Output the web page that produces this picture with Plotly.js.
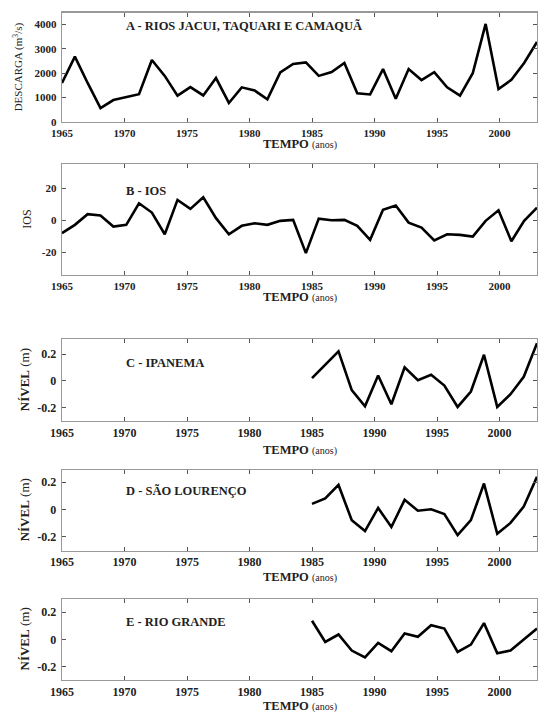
<!DOCTYPE html>
<html>
<head>
<meta charset="utf-8">
<script src="https://cdn.plot.ly/plotly-3.0.1.min.js"></script>
<style>html,body{margin:0;padding:0;background:#fff;}#chart{width:539px;height:713px;}</style>
</head>
<body>
<div id="chart"></div>
<script>
// ---- Data ----
const yearsA = [1965.00,1966.03,1967.05,1968.08,1969.11,1970.14,1971.16,1972.19,1973.22,1974.24,
  1975.27,1976.30,1977.32,1978.35,1979.38,1980.41,1981.43,1982.46,1983.49,1984.51,
  1985.54,1986.57,1987.59,1988.62,1989.65,1990.68,1991.70,1992.73,1993.76,1994.78,
  1995.81,1996.84,1997.86,1998.89,1999.92,2000.95,2001.97,2003.00];
const descarga = [1600,2680,1600,570,900,1010,1140,2540,1890,1080,
  1430,1090,1800,780,1420,1290,930,2030,2380,2440,
  1890,2050,2420,1180,1130,2170,950,2170,1720,2040,
  1420,1080,2000,4020,1350,1730,2420,3280];
const ios = [-8.1,-2.9,3.8,2.9,-4.0,-2.9,10.6,4.8,-8.8,12.7,
  7.1,14.4,1.3,-8.8,-3.5,-1.9,-2.9,-0.4,0.2,-20.6,
  1.0,0.0,0.2,-3.5,-12.3,6.5,9.2,-1.5,-4.6,-12.6,
  -8.8,-9.2,-10.2,-0.4,6.2,-13.2,-0.4,7.8];
const yearsN = [1985.00,1986.06,1987.12,1988.18,1989.24,1990.29,1991.35,1992.41,1993.47,
  1994.53,1995.59,1996.65,1997.71,1998.76,1999.82,2000.88,2001.94,2003.00];
const ipanema = [0.02,0.12,0.22,-0.07,-0.19,0.04,-0.175,0.10,0.005,0.045,-0.035,-0.195,-0.08,0.195,-0.195,-0.10,0.03,0.28];
const saoLourenco = [0.04,0.08,0.18,-0.08,-0.16,0.01,-0.13,0.07,-0.01,0.0,-0.035,-0.19,-0.08,0.19,-0.18,-0.10,0.02,0.24];
const rioGrande = [0.137,-0.017,0.037,-0.08,-0.13,-0.025,-0.085,0.045,0.02,0.105,0.08,-0.09,-0.037,0.12,-0.10,-0.08,0.0,0.08];
const xTicks = [1965,1970,1975,1980,1985,1990,1995,2000];
const panelLabels = ['A - RIOS JACUI, TAQUARI E CAMAQUÃ','B - IOS','C - IPANEMA','D - SÃO LOURENÇO','E - RIO GRANDE'];
const yTitles = ['DESCARGA (m<sup>3</sup>/s)','IOS','<b>NÍVEL</b> (m)','<b>NÍVEL</b> (m)','<b>NÍVEL</b> (m)'];
const xTitle = '<b>TEMPO</b> <span style="font-size:10px">(anos)</span>';

// ---- Layout geometry (pixels) ----
const W = 539, H = 713;
const FONT = 'Liberation Serif, Times New Roman, serif';
const xL = 62, xR = 537;
const panels = [
  {top:12.7, bot:122, range:[0,4480], tickvals:[0,1000,2000,3000,4000], ticktext:['0','1000','2000','3000','4000'], labY:26, titleY:144, yTitleX:18, yTitleSize:11, tickSize:11},
  {top:164.3, bot:275, range:[-34.3,35], tickvals:[-20,0,20], ticktext:['-20','0','20'], labY:191, titleY:297, yTitleX:27, yTitleSize:12, tickSize:11},
  {top:339.3, bot:421, range:[-0.30,0.31], tickvals:[-0.2,0,0.2], ticktext:['-0.2','0','0.2'], labY:363, titleY:450, yTitleX:24, yTitleSize:13, tickSize:12},
  {top:470, bot:550.7, range:[-0.305,0.29], tickvals:[-0.2,0,0.2], ticktext:['-0.2','0','0.2'], labY:491, titleY:577, yTitleX:24, yTitleSize:13, tickSize:12},
  {top:599, bot:680, range:[-0.295,0.296], tickvals:[-0.2,0,0.2], ticktext:['-0.2','0','0.2'], labY:622, titleY:706, yTitleX:24, yTitleSize:13, tickSize:12}
];
const series = [[yearsA,descarga],[yearsA,ios],[yearsN,ipanema],[yearsN,saoLourenco],[yearsN,rioGrande]];

const py = p => 1 - p / H;
const data = [];
const layout = {
  width: W, height: H,
  margin: {l:0, r:0, t:0, b:0},
  paper_bgcolor: '#fff', plot_bgcolor: '#fff',
  showlegend: false,
  font: {family: FONT, color: '#000'},
  annotations: [], shapes: []
};

panels.forEach((p, i) => {
  const n = i + 1;
  const sfx = (n === 1 ? '' : String(n));
  data.push({
    x: series[i][0], y: series[i][1], type: 'scatter', mode: 'lines',
    xaxis: 'x' + sfx, yaxis: 'y' + sfx,
    line: {color: '#000', width: 2.6}, hoverinfo: 'skip'
  });
  layout['xaxis' + sfx] = {
    domain: [xL / W, xR / W], range: [1965, 2003], anchor: 'y' + sfx,
    tickvals: xTicks, ticktext: xTicks.map(String),
    ticks: 'inside', ticklen: 4, tickcolor: '#555', tickwidth: 1,
    showline: true, linecolor: '#999', linewidth: 1.3, mirror: 'ticks',
    showgrid: false, zeroline: false,
    tickfont: {family: FONT, size: p.tickSize, color: '#222', weight: 'bold'},
    ticklabelstandoff: 0, fixedrange: true
  };
  layout['yaxis' + sfx] = {
    domain: [py(p.bot), py(p.top)], range: p.range, anchor: 'x' + sfx,
    tickvals: p.tickvals, ticktext: p.ticktext,
    ticks: 'inside', ticklen: 4, tickcolor: '#555', tickwidth: 1,
    showline: true, linecolor: '#999', linewidth: 1.3, mirror: 'ticks',
    showgrid: false, zeroline: false,
    tickfont: {family: FONT, size: p.tickSize, color: '#222', weight: 'bold'},
    ticklabelstandoff: 2, fixedrange: true
  };
  layout.annotations.push({
    xref: 'paper', yref: 'paper', x: 124 / W, y: py(p.labY), xanchor: 'left', yanchor: 'middle',
    text: '<b>' + panelLabels[i] + '</b>', showarrow: false,
    font: {family: FONT, size: 12.5, color: '#222'}
  });
  layout.annotations.push({
    xref: 'paper', yref: 'paper', x: (xL + xR) / 2 / W, y: py(p.titleY), xanchor: 'center', yanchor: 'middle',
    text: xTitle, showarrow: false, font: {family: FONT, size: 12.5, color: '#222'}
  });
  layout.annotations.push({
    xref: 'paper', yref: 'paper', x: p.yTitleX / W, y: py((p.top + p.bot) / 2), xanchor: 'center', yanchor: 'middle',
    text: yTitles[i], textangle: -90, showarrow: false, font: {family: FONT, size: p.yTitleSize, color: '#222'}
  });
});

Plotly.newPlot('chart', data, layout, {staticPlot: true, displayModeBar: false});
</script>
</body>
</html>
